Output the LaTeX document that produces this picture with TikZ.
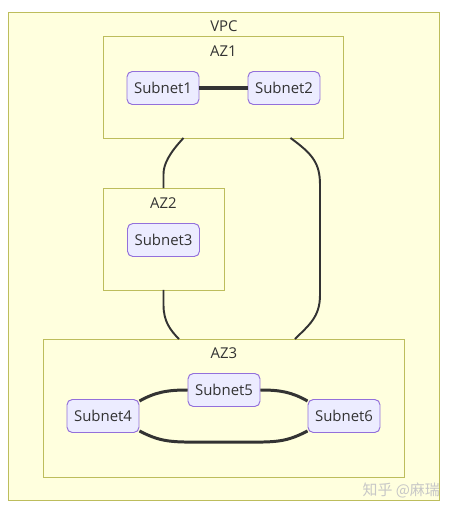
\documentclass[tikz,border=0pt]{standalone}
\usepackage{fontspec}
\setmainfont{Open Sans}
\newfontfamily\cjkfont{Noto Sans CJK SC}
\usetikzlibrary{positioning,calc}
\definecolor{clusterfill}{HTML}{FFFFDE}
\definecolor{clusterline}{HTML}{BDBD5C}
\definecolor{subnetfill}{HTML}{ECECFF}
\definecolor{subnetline}{HTML}{9370DB}
\definecolor{linkcolor}{HTML}{333333}

\begin{document}
\begin{tikzpicture}[x=0.02cm, y=-0.02cm,
    font=\fontsize{8.5}{10}\selectfont, text=linkcolor,
    cluster/.style={draw=clusterline, fill=clusterfill, line width=0.55pt, inner sep=0pt, outer sep=0pt},
    title/.style={inner sep=0pt},
    subnet/.style={draw=subnetline, fill=subnetfill, rounded corners=3pt, line width=0.55pt,
      minimum width=1.44cm, minimum height=0.66cm, inner sep=0pt},
    azlink/.style={draw=linkcolor, line width=1.1pt},
    netlink/.style={draw=linkcolor, line width=1.7pt}]
  \useasboundingbox (0,0) rectangle (454,514);
  \node[cluster, minimum width=8.64cm, minimum height=9.78cm] (vpc) at (224,256.5) {};
  \node[title] (vpct) at ($(vpc.north)+(0,14)$) {VPC};
  \node[cluster, minimum width=4.82cm, minimum height=2.04cm] (az1) at (223.5,87) {};
  \node[title] (az1t) at ($(az1.north)+(0,15)$) {AZ1};
  \node[cluster, minimum width=2.42cm, minimum height=2.04cm] (az2) at (163.5,239) {};
  \node[title] (az2t) at ($(az2.north)+(0,15)$) {AZ2};
  \node[cluster, minimum width=7.24cm, minimum height=2.76cm] (az3) at (224,408) {};
  \node[title] (az3t) at ($(az3.north)+(0,14)$) {AZ3};
  \node[subnet] (s1) at (163,88) {Subnet1};
  \node[subnet] (s2) at (284,88) {Subnet2};
  \node[subnet] (s3) at (163.5,240) {Subnet3};
  \node[subnet] (s5) at (224,390) {Subnet5};
  \node[subnet] (s4) at (103,416) {Subnet4};
  \node[subnet] (s6) at (344,416) {Subnet6};
  \node[text=black!22, font=\cjkfont\fontsize{8.5}{10}\selectfont, anchor=east] (mark) at (446,490) {知乎 @麻瑞};

  \draw[netlink, line width=2.2pt] (s1) -- (s2);
  \draw[azlink] ($(az1.south)+(-40,0)$) .. controls +(-14,15) and +(0,-10) .. ($(az2.north)+(0,-14)$) -- (az2.north);
  \draw[azlink] ($(az1.south)+(67,0)$) .. controls +(22,16) and +(0,-22) .. (320,185) -- (320,295)
    .. controls +(0,22) and +(14,-14) .. ($(az3.north)+(71,0)$);
  \draw[azlink] (az2.south) -- ++(0,15) .. controls +(0,16) and +(-9,-9) .. ($(az3.north)+(-45,0)$);
  \draw[netlink] ($(s4.north east)+(0,2)$) .. controls +(16,-9) and +(-20,0) .. (s5.west);
  \draw[netlink] (s5.east) .. controls +(20,0) and +(-16,-9) .. ($(s6.north west)+(0,2)$);
  \draw[netlink] ($(s4.south east)+(0,-2)$) .. controls +(25,13) and +(-50,0) .. (224,442)
    .. controls +(50,0) and +(-25,13) .. ($(s6.south west)+(0,-2)$);
\end{tikzpicture}
\end{document}
